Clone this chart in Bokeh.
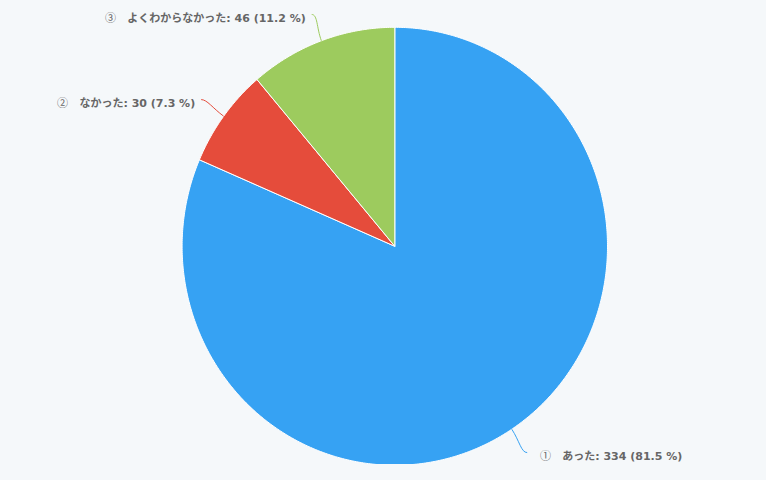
import numpy as np
from bokeh.plotting import figure
from bokeh.models import Range1d, ColumnDataSource
from bokeh.embed import file_html
from bokeh.resources import INLINE
from bokeh.core.properties import value

# ---- data ----
categories = ["あった", "なかった", "よくわからなかった"]
markers = ["①", "②", "③"]
counts = [334, 30, 46]
colors = ["#36a2f3", "#e54c3b", "#9dcb5e"]

BG = "#f5f8fa"
TEXT = "#666666"

# ---- layout (screen pixel coordinates) ----
W, H = 750, 464
CX, CY = 394.3, 245.8
RX, RY = 212.7, 219.0

p = figure(width=W, height=H, x_range=Range1d(0, W), y_range=Range1d(H, 0),
           output_backend="svg", toolbar_location=None,
           background_fill_color=BG, border_fill_color=BG, min_border=0)
p.axis.visible = False
p.grid.visible = False
p.outline_line_color = None

vals = np.array(counts, dtype=float)
frac = vals / vals.sum()
ends = np.cumsum(frac) * 2 * np.pi
starts = ends - frac * 2 * np.pi

def pt(theta, rx=RX, ry=RY):
    return CX + rx * np.sin(theta), CY - ry * np.cos(theta)

xs, ys = [], []
for s, e in zip(starts, ends):
    t = np.linspace(s, e, max(8, int((e - s) * 120)))
    px, py = pt(t)
    xs.append([CX] + list(px))
    ys.append([CY] + list(py))

p.patches(xs="xs", ys="ys", fill_color="color", line_color="white", line_width=1,
          source=ColumnDataSource(dict(xs=xs, ys=ys, color=colors)))

# connectors and labels
bx0, by0, bx1, by1, cx0, cy0, cx1, cy1 = [], [], [], [], [], [], [], []
lx, ly, lt, la = [], [], [], []
for i, (s, e) in enumerate(zip(starts, ends)):
    m = (s + e) / 2
    ex, ey = pt(m)
    dx, dy = np.sin(m), -np.cos(m)
    sign = 1 if dx >= 0 else -1
    endx, endy = ex + 28 * dx, ey + 28 * dy
    bx0.append(ex); by0.append(ey)
    bx1.append(endx); by1.append(endy)
    cx0.append(ex + 14 * dx); cy0.append(ey + 14 * dy)
    cx1.append(endx - sign * 6); cy1.append(endy)
    lx.append(endx + sign * (13 if sign > 0 else 6))
    ly.append(endy + 4)
    pct = frac[i] * 100
    lt.append(f"{markers[i]}\u3000{categories[i]}: {counts[i]} ({pct:.1f} %)")
    la.append("left" if sign > 0 else "right")

p.bezier(x0=bx0, y0=by0, x1=bx1, y1=by1, cx0=cx0, cy0=cy0, cx1=cx1, cy1=cy1,
         line_color=colors, line_width=1)

p.text(x=lx, y=ly, text=lt, text_align=la, text_baseline="middle",
       text_font=value("LblCircled, 'DejaVu Sans', 'Noto Sans CJK JP', sans-serif"),
       text_font_style="bold", text_font_size="11px", text_color=TEXT)

css = """<style>
html,body{background:%s;}
@font-face{font-family:"LblCircled";
 src: local("Noto Sans CJK JP"), local("Noto Sans CJK JP Regular"), local("NotoSansCJKjp-Regular");
 font-weight:700; unicode-range:U+2460-24FF;}
</style>""" % BG

html = file_html(p, INLINE)
html = html.replace("</head>", css + "</head>", 1)
open("out.html", "w").write(html)
